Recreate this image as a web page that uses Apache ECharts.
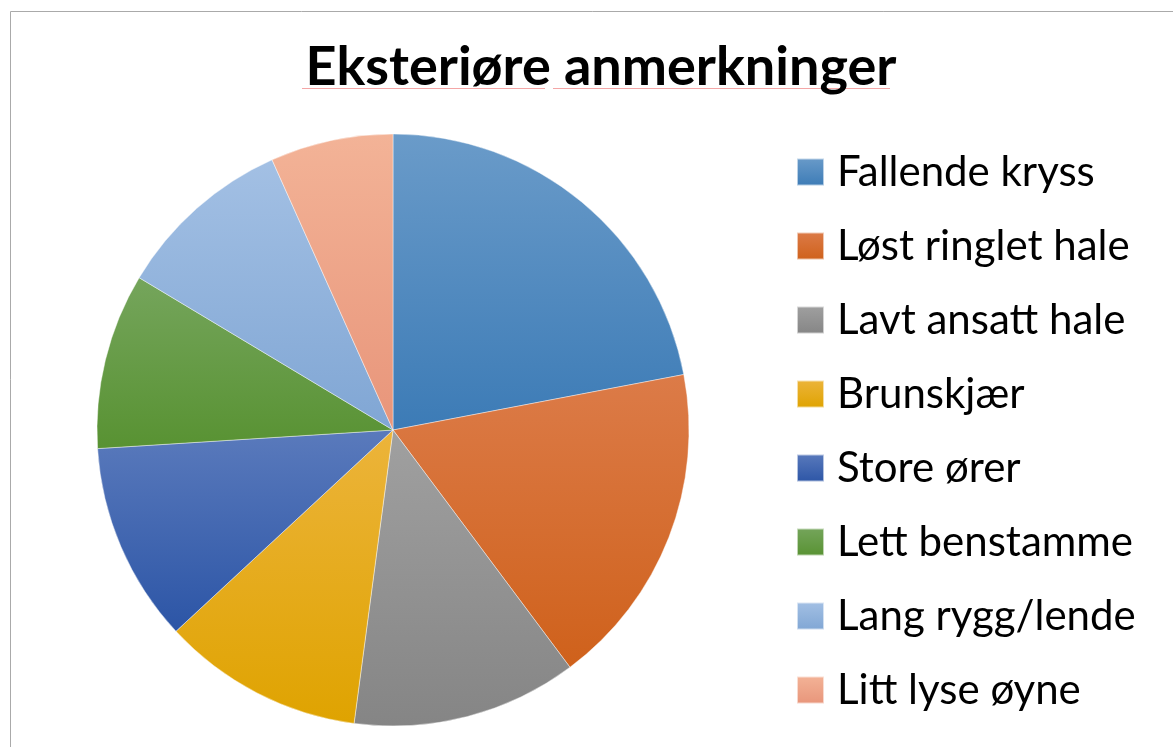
<!DOCTYPE html>
<html>
<head>
<meta charset="utf-8">
<script src="https://cdn.jsdelivr.net/npm/echarts@6/dist/echarts.min.js"></script>
<style>
  html, body { margin: 0; padding: 0; background: #fff; }
  #chart { width: 1173px; height: 747px; }
</style>
</head>
<body>
<div id="chart"></div>
<script>
var categories = ['Fallende kryss', 'Løst ringlet hale', 'Lavt ansatt hale', 'Brunskjær',
  'Store ører', 'Lett benstamme', 'Lang rygg/lende', 'Litt lyse øyne'];
var values = [22, 17.8, 12.3, 11, 10.9, 9.6, 9.7, 6.7];
// top / bottom colours of each slice gradient
var topColors = ['#6a9bc9', '#dc7b48', '#a0a0a0', '#ecb43b', '#5a7abc', '#75a55c', '#a3c0e4', '#f3b397'];
var bottomColors = ['#3c7bb6', '#cf611b', '#858585', '#dfa300', '#2c55a6', '#589232', '#80a6d4', '#e8957a'];

var chart = echarts.init(document.getElementById('chart'));

var seriesData = [];
for (var i = 0; i < categories.length; i++) {
  seriesData.push({
    name: categories[i],
    value: values[i],
    itemStyle: {
      color: new echarts.graphic.LinearGradient(0, 0, 0, 1, [
        { offset: 0, color: topColors[i] },
        { offset: 1, color: bottomColors[i] }
      ])
    }
  });
}

var option = {
  backgroundColor: '#fff',
  animation: false,
  title: {
    text: 'Eksteriøre anmerkninger',
    left: 596,
    textAlign: 'center',
    top: 36,
    textStyle: {
      fontFamily: 'Lato',
      fontWeight: 'bold',
      fontSize: 54,
      color: '#000'
    }
  },
  legend: {
    orient: 'vertical',
    left: 796,
    top: 151,
    padding: 0,
    itemWidth: 27,
    itemHeight: 27,
    itemGap: 32,
    icon: 'rect',
    textStyle: {
      fontFamily: 'Lato',
      fontSize: 42,
      lineHeight: 40,
      color: '#000',
      padding: [0, 0, 0, 8]
    },
    data: categories
  },
  graphic: [
    {
      type: 'rect',
      shape: { x: 10.5, y: 11.5, width: 1300, height: 900 },
      style: { fill: 'none', stroke: '#aaaaaa', lineWidth: 1 },
      silent: true
    },
    {
      type: 'line',
      shape: { x1: 302, y1: 88.5, x2: 545, y2: 88.5 },
      style: { stroke: '#f4a6a6', lineWidth: 1 },
      silent: true
    },
    {
      type: 'line',
      shape: { x1: 553, y1: 88.5, x2: 890, y2: 88.5 },
      style: { stroke: '#f4a6a6', lineWidth: 1 },
      silent: true
    }
  ],
  series: [{
    type: 'pie',
    center: [393, 430],
    radius: 296,
    startAngle: 90,
    clockwise: true,
    label: { show: false },
    labelLine: { show: false },
    itemStyle: { borderColor: 'rgba(255,255,255,0.6)', borderWidth: 0.7 },
    emphasis: { disabled: true },
    data: seriesData
  }]
};

chart.setOption(option);
</script>
</body>
</html>
